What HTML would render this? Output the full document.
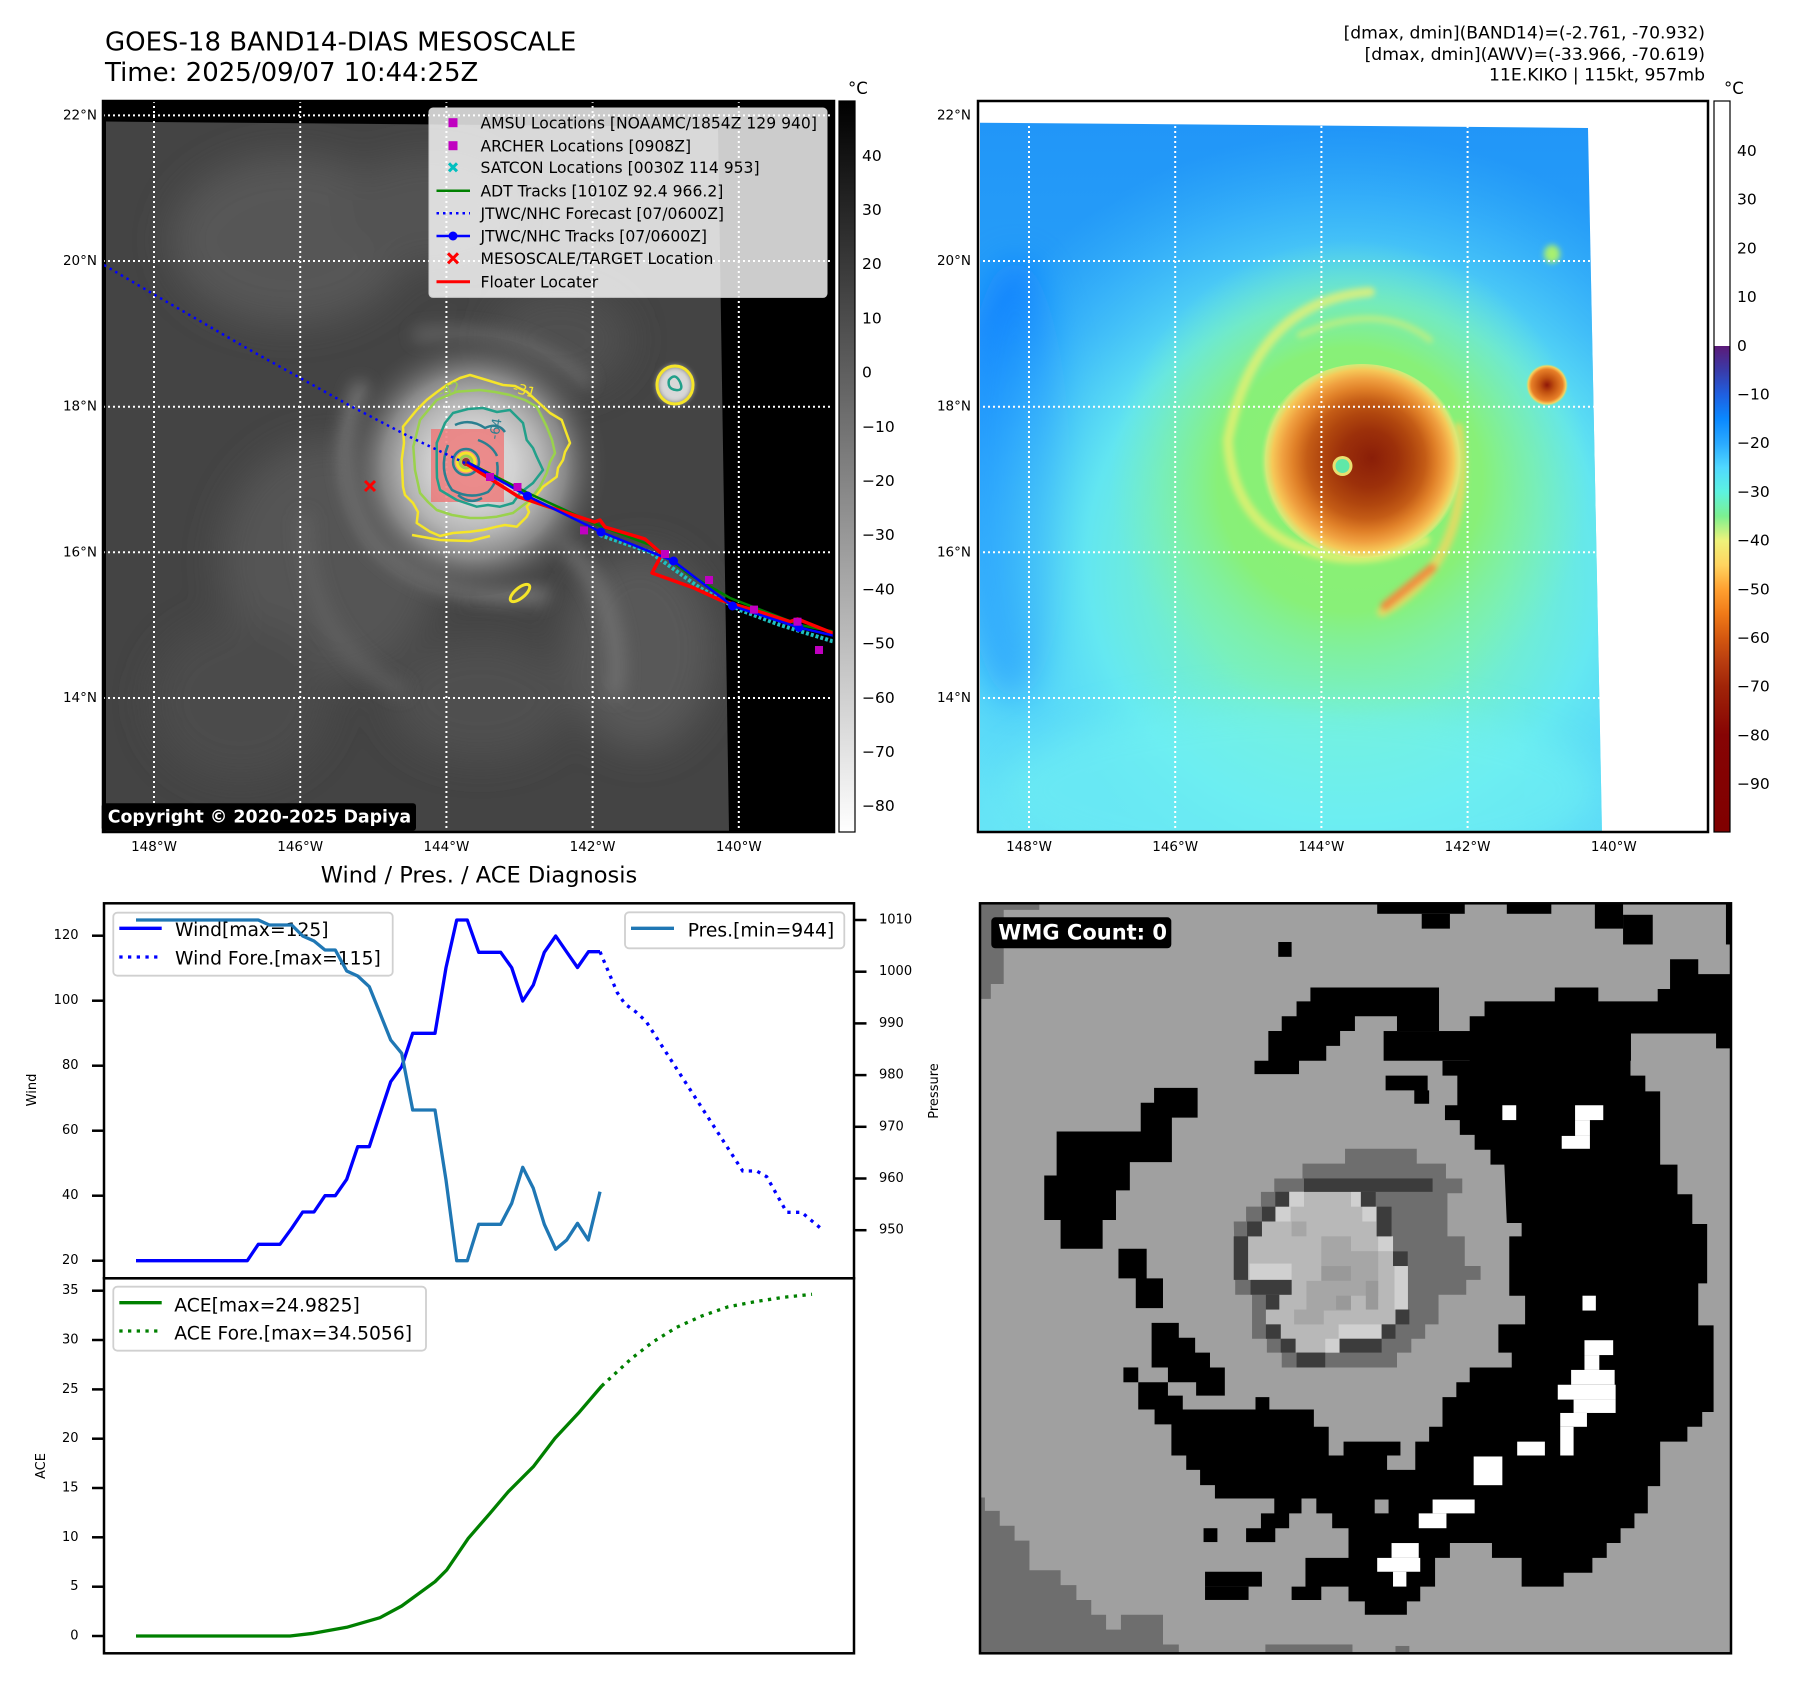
<!DOCTYPE html>
<html><head><meta charset="utf-8"><style>
html,body{margin:0;padding:0;background:#fff;}
svg{display:block;font-family:"DejaVu Sans","Liberation Sans",sans-serif;}
</style></head><body>
<svg width="1797" height="1690" viewBox="0 0 1797 1690" xmlns="http://www.w3.org/2000/svg">
<defs>
 <clipPath id="cL"><rect x="103" y="101" width="731" height="731"/></clipPath>
 <clipPath id="cR"><rect x="978" y="101" width="730" height="731"/></clipPath>
 <clipPath id="cSL"><polygon points="106,121.5 330,123.5 718,127 729,832 106,832"/></clipPath>
 <clipPath id="cSR"><polygon points="980,122.7 1200,124.5 1588,128 1602,832 980,832"/></clipPath>
 <clipPath id="cW"><rect x="980" y="903" width="751" height="750"/></clipPath>
 <filter id="b3" x="-50%" y="-50%" width="200%" height="200%"><feGaussianBlur stdDeviation="3"/></filter>
 <filter id="b8" x="-50%" y="-50%" width="200%" height="200%"><feGaussianBlur stdDeviation="8"/></filter>
 <filter id="b18" x="-50%" y="-50%" width="200%" height="200%"><feGaussianBlur stdDeviation="18"/></filter>
 <linearGradient id="gCbL" x1="0" y1="0" x2="0" y2="1"><stop offset="0" stop-color="#000"/><stop offset="1" stop-color="#fff"/></linearGradient>
 <linearGradient id="gCbR" x1="0" y1="0" x2="0" y2="1">
  <stop offset="0" stop-color="#fff"/><stop offset="0.3349" stop-color="#fff"/>
  <stop offset="0.335" stop-color="#5c1a78"/><stop offset="0.368" stop-color="#3a3aa8"/>
  <stop offset="0.4015" stop-color="#1f5fe0"/><stop offset="0.4348" stop-color="#0a88ff"/>
  <stop offset="0.4681" stop-color="#2aaaff"/><stop offset="0.5014" stop-color="#50d8ff"/>
  <stop offset="0.5348" stop-color="#5cf2e0"/><stop offset="0.568" stop-color="#7cf090"/>
  <stop offset="0.6014" stop-color="#eef27a"/><stop offset="0.6346" stop-color="#ffd460"/>
  <stop offset="0.668" stop-color="#ffa030"/><stop offset="0.7013" stop-color="#f07a18"/>
  <stop offset="0.7346" stop-color="#d45810"/><stop offset="0.7679" stop-color="#b83c10"/>
  <stop offset="0.8012" stop-color="#a02408"/><stop offset="0.8679" stop-color="#860404"/>
  <stop offset="1" stop-color="#800000"/>
 </linearGradient>
 <linearGradient id="gVertR" gradientUnits="userSpaceOnUse" x1="0" y1="122" x2="0" y2="832">
  <stop offset="0" stop-color="#2196f8"/><stop offset="0.3" stop-color="#28a0f8"/>
  <stop offset="0.55" stop-color="#44c4f8"/><stop offset="0.8" stop-color="#5cdcf8"/>
  <stop offset="1" stop-color="#66e4f6"/>
 </linearGradient>
 <radialGradient id="gStormL" gradientUnits="userSpaceOnUse" cx="474" cy="466" r="135">
  <stop offset="0" stop-color="#e0e0e0"/><stop offset="0.3" stop-color="#d2d2d2"/>
  <stop offset="0.5" stop-color="#b4b4b4"/><stop offset="0.68" stop-color="#888"/>
  <stop offset="0.85" stop-color="#5e5e5e" stop-opacity="0.6"/><stop offset="1" stop-color="#484848" stop-opacity="0"/>
 </radialGradient>
 <radialGradient id="gBaseR" gradientUnits="userSpaceOnUse" cx="1345" cy="560" r="430">
  <stop offset="0" stop-color="#80f0a0"/><stop offset="0.35" stop-color="#78f0c0"/>
  <stop offset="0.6" stop-color="#66eaf0" stop-opacity="0.9"/><stop offset="0.82" stop-color="#50d0fa" stop-opacity="0.45"/>
  <stop offset="1" stop-color="#40c0fa" stop-opacity="0"/>
 </radialGradient>
 <radialGradient id="gGreenR" gradientUnits="userSpaceOnUse" cx="1350" cy="480" r="240">
  <stop offset="0" stop-color="#8cf070"/><stop offset="0.55" stop-color="#88f078"/>
  <stop offset="0.78" stop-color="#80f0a0" stop-opacity="0.55"/><stop offset="1" stop-color="#78f0c0" stop-opacity="0"/>
 </radialGradient>
 <radialGradient id="gCoreR" gradientUnits="userSpaceOnUse" cx="1362" cy="461" r="102" fx="1372" fy="458">
  <stop offset="0" stop-color="#8a1e08"/><stop offset="0.28" stop-color="#9c300a"/>
  <stop offset="0.45" stop-color="#b0460e"/><stop offset="0.58" stop-color="#c45c16"/>
  <stop offset="0.7" stop-color="#e08028"/><stop offset="0.8" stop-color="#f0a040"/>
  <stop offset="0.89" stop-color="#f6c858"/><stop offset="0.95" stop-color="#e6e878" stop-opacity="0.8"/>
  <stop offset="1" stop-color="#a0f080" stop-opacity="0"/>
 </radialGradient>
 <radialGradient id="gCell" gradientUnits="userSpaceOnUse" cx="1547" cy="385" r="21">
  <stop offset="0" stop-color="#901808"/><stop offset="0.35" stop-color="#c05010"/>
  <stop offset="0.75" stop-color="#e88028"/><stop offset="0.9" stop-color="#f8d060"/>
  <stop offset="1" stop-color="#a0f080" stop-opacity="0"/>
 </radialGradient>
</defs>

<!-- HEADER -->
<text x="105" y="50.7" font-size="26">GOES-18 BAND14-DIAS MESOSCALE</text>
<text x="105" y="81" font-size="26">Time: 2025/09/07 10:44:25Z</text>
<g font-size="17.2" text-anchor="end">
<text x="1705" y="38.5">[dmax, dmin](BAND14)=(-2.761, -70.932)</text>
<text x="1705" y="60">[dmax, dmin](AWV)=(-33.966, -70.619)</text>
<text x="1705" y="80.7">11E.KIKO | 115kt, 957mb</text>
</g>

<!-- ================= LEFT MAP ================= -->
<g clip-path="url(#cL)">
 <rect x="103" y="101" width="731" height="731" fill="#000"/>
 <polygon points="106,121.5 330,123.5 718,127 729,832 106,832" fill="#444"/>
 <g clip-path="url(#cSL)">
  <g filter="url(#b18)">
   <ellipse cx="290" cy="240" rx="120" ry="85" fill="#575757"/>
   <ellipse cx="430" cy="210" rx="90" ry="55" fill="#525252"/>
   <ellipse cx="330" cy="560" rx="110" ry="120" fill="#555"/>
   <ellipse cx="640" cy="650" rx="75" ry="100" fill="#595959"/>
   <ellipse cx="560" cy="340" rx="70" ry="50" fill="#505050"/>
   <ellipse cx="480" cy="700" rx="90" ry="60" fill="#505050"/>
   <ellipse cx="240" cy="700" rx="90" ry="80" fill="#4c4c4c"/>
  </g>
  <g filter="url(#b8)" fill="none" stroke-linecap="round">
   <path d="M360,390 Q330,470 375,540 Q430,600 540,595" stroke="#858585" stroke-width="18" opacity="0.7"/>
   <path d="M560,540 Q625,600 615,690" stroke="#777" stroke-width="18" opacity="0.7"/>
   <path d="M420,335 Q520,325 585,380" stroke="#747474" stroke-width="15" opacity="0.6"/>
   <path d="M305,520 Q305,640 400,690" stroke="#656565" stroke-width="16" opacity="0.6"/>
  </g>
  <ellipse cx="474" cy="466" rx="135" ry="130" fill="url(#gStormL)"/>
  <ellipse cx="675" cy="385" rx="18" ry="19" fill="#d8d8d8" filter="url(#b3)"/>
 </g>
 <g stroke="#fff" stroke-width="2" stroke-dasharray="2 3">
  <line x1="154" y1="101" x2="154" y2="832"/><line x1="300.2" y1="101" x2="300.2" y2="832"/>
  <line x1="446.4" y1="101" x2="446.4" y2="832"/><line x1="592.6" y1="101" x2="592.6" y2="832"/>
  <line x1="738.8" y1="101" x2="738.8" y2="832"/>
  <line x1="103" y1="115.4" x2="834" y2="115.4"/><line x1="103" y1="261" x2="834" y2="261"/>
  <line x1="103" y1="406.7" x2="834" y2="406.7"/><line x1="103" y1="552.3" x2="834" y2="552.3"/>
  <line x1="103" y1="698" x2="834" y2="698"/>
 </g>
 <rect x="431" y="429" width="73" height="73" fill="#f07070" opacity="0.75"/>
 <g fill="none" stroke-linejoin="round" stroke-width="2.5">
  <polygon stroke="#f5e529" points="470,375 486.7,380 503,385 515,386 526.7,391.7 538,402 550,413 561.7,420 566,432 570,443 565,452 563,460 558,468 556.7,476.7 543,486.7 535,497 526.7,506.7 529,512 526.7,516.7 516.7,526.7 505,525 496.7,526.7 483,530 470,531.7 453,533 440,536 430,531.7 416.7,523 418,512 413,503 405,495 403,486.7 401.7,460 404,443 403,426.7 416.7,410 426.7,400 437,392 446.7,385 460,378"/>
  <polygon stroke="#9ad24c" points="480,390 495,392 510,395 525,400 536.7,406.7 546.7,426.7 552,440 555,453 550,462 546.7,473 540,486.7 530,500 513,513 496.7,516.7 483,518 470,518 452,515 436.7,510 428,502 420,493 415,470 413.3,446.7 420,420 436.7,400 456.7,391.7"/>
  <polygon stroke="#22a08a" points="453,413 468,409 483,408 497,412 510,410 523,423 526.7,440 533,448 536.7,456.7 543,470 533,483 520,493 513,503 500,506.7 488,505 476.7,506.7 456.7,500 440,490 437,478 436.7,466.7 436.7,443 445,423"/>
  <path stroke="#2a7f90" d="M455,425 Q470,418 485,428 Q498,422 505,432 M448,445 Q438,470 452,490 Q470,500 488,492 Q500,480 497,462 M478,440 Q492,445 497,456 M458,495 Q470,505 482,498"/>
  <circle cx="466" cy="462" r="13" stroke="#2a7f90"/>
  <circle cx="466" cy="462" r="9" stroke="#f5e529" stroke-width="3"/>
  <circle cx="466" cy="462" r="6" stroke="#9ad24c"/>
  <ellipse cx="675" cy="385" rx="18" ry="19" stroke="#f5e529" stroke-width="3"/>
  <path stroke="#22a08a" d="M669,380 q6,-8 11,2 q4,9 -4,8 q-9,-1 -7,-10 z"/>
  <ellipse cx="520" cy="593" rx="12" ry="5" transform="rotate(-40 520 593)" stroke="#f5e529" stroke-width="3"/>
  <path stroke="#f5e529" d="M412,535 L440,540 L470,541 L490,536"/>
 </g>
 <circle cx="466" cy="462" r="4" fill="#8b3a2a"/>
 <text x="440" y="398" font-size="14" fill="#9ad24c" transform="rotate(-20 440 398)">-42</text>
 <text x="512" y="392" font-size="14" fill="#f5e529" transform="rotate(15 512 392)">-31</text>
 <text x="498" y="440" font-size="13" fill="#2a7f90" transform="rotate(-80 498 440)">-64</text>
 <polyline points="104,265 155,295 250,350 350,405.7 410,437 467,464" fill="none" stroke="#0000ff" stroke-width="2.5" stroke-dasharray="2.5 4"/>
 <polyline points="600,535 650,552 700,588 740,610 780,625 835,642" fill="none" stroke="#1ec0c0" stroke-width="4" stroke-dasharray="3 2"/>
 <polyline points="467,462 530,494 600,526 650,545 690,575 730,598 800,625 835,632" fill="none" stroke="#008000" stroke-width="2.5"/>
 <polyline points="466.7,464 519,497 594.5,522 600,520 605,527 645,539 662,554 652,573 694,588 720,600 760,612 790,621.7 797.5,619 835,634" fill="none" stroke="#ff0000" stroke-width="3.5" stroke-linejoin="round"/>
 <polyline points="467,462 527.5,496 601,532 673.5,561 732.5,606 799,627.5 835,636" fill="none" stroke="#0000ff" stroke-width="2.5"/>
 <g fill="#0000ff"><circle cx="527.5" cy="496" r="4.5"/><circle cx="601" cy="532" r="4.5"/><circle cx="673.5" cy="561" r="4.5"/><circle cx="732.5" cy="606" r="4.5"/><circle cx="799" cy="627.5" r="4.5"/></g>
 <g fill="#c000c0"><rect x="486" y="473" width="8" height="8"/><rect x="513.5" y="483" width="8" height="8"/><rect x="580" y="526.4" width="8" height="8"/><rect x="661" y="550" width="8" height="8"/><rect x="705" y="576" width="8" height="8"/><rect x="750" y="605.6" width="8" height="8"/><rect x="793.5" y="617.7" width="8" height="8"/><rect x="815" y="646" width="8" height="8"/></g>
 <path d="M365,481 L375,491 M375,481 L365,491" stroke="#ff0000" stroke-width="3"/>
 <rect x="429" y="108" width="398" height="189.4" rx="4" fill="#fff" fill-opacity="0.8" stroke="#ccc" stroke-width="1"/>
 <rect x="448.5" y="118.2" width="9" height="9" fill="#c000c0"/>
 <rect x="448.5" y="141.2" width="9" height="9" fill="#c000c0"/>
 <path d="M449,163.3 L457,171.3 M457,163.3 L449,171.3" stroke="#00bfbf" stroke-width="3"/>
 <line x1="436.5" y1="190.7" x2="470" y2="190.7" stroke="#008000" stroke-width="2.5"/>
 <line x1="436.5" y1="213.3" x2="470" y2="213.3" stroke="#0000ff" stroke-width="2.5" stroke-dasharray="2.5 4"/>
 <line x1="436.5" y1="236" x2="470" y2="236" stroke="#0000ff" stroke-width="2.5"/><circle cx="453" cy="236" r="4.5" fill="#0000ff"/>
 <path d="M448,253.3 L458,263.3 M458,253.3 L448,263.3" stroke="#ff0000" stroke-width="3"/>
 <line x1="436.5" y1="281.7" x2="470" y2="281.7" stroke="#ff0000" stroke-width="3"/>
 <g font-size="15.6">
  <text x="480.5" y="128.4">AMSU Locations [NOAAMC/1854Z 129 940]</text>
  <text x="480.5" y="151.4">ARCHER Locations [0908Z]</text>
  <text x="480.5" y="173">SATCON Locations [0030Z 114 953]</text>
  <text x="480.5" y="196.4">ADT Tracks [1010Z 92.4 966.2]</text>
  <text x="480.5" y="219">JTWC/NHC Forecast [07/0600Z]</text>
  <text x="480.5" y="241.7">JTWC/NHC Tracks [07/0600Z]</text>
  <text x="480.5" y="264">MESOSCALE/TARGET Location</text>
  <text x="480.5" y="287.4">Floater Locater</text>
 </g>
</g>
<rect x="103" y="101" width="731" height="731" fill="none" stroke="#000" stroke-width="2.5"/>
<rect x="101.7" y="803.3" width="314.3" height="27.4" rx="3" fill="#000"/>
<text x="107.7" y="822.3" font-size="17.4" font-weight="bold" fill="#fff">Copyright © 2020-2025 Dapiya</text>
<g font-size="13.5" text-anchor="end" dominant-baseline="central">
 <text x="97" y="115.4">22°N</text><text x="97" y="261">20°N</text><text x="97" y="406.7">18°N</text><text x="97" y="552.3">16°N</text><text x="97" y="698">14°N</text>
 <text x="971" y="115.4">22°N</text><text x="971" y="261">20°N</text><text x="971" y="406.7">18°N</text><text x="971" y="552.3">16°N</text><text x="971" y="698">14°N</text>
</g>
<g font-size="13.5" text-anchor="middle">
 <text x="154" y="851">148°W</text><text x="300.2" y="851">146°W</text><text x="446.4" y="851">144°W</text><text x="592.6" y="851">142°W</text><text x="738.8" y="851">140°W</text>
 <text x="1029" y="851">148°W</text><text x="1175.2" y="851">146°W</text><text x="1321.4" y="851">144°W</text><text x="1467.6" y="851">142°W</text><text x="1613.8" y="851">140°W</text>
</g>
<rect x="839" y="101" width="16" height="731" fill="url(#gCbL)" stroke="#000" stroke-width="1.2"/>
<text x="848" y="94" font-size="16.5">°C</text>
<g font-size="15.5" dominant-baseline="central">
 <text x="862" y="155.8">40</text><text x="862" y="210">30</text><text x="862" y="264.2">20</text><text x="862" y="318.4">10</text><text x="862" y="372.6">0</text>
 <text x="862" y="426.8">−10</text><text x="862" y="481">−20</text><text x="862" y="535.2">−30</text><text x="862" y="589.4">−40</text><text x="862" y="643.6">−50</text>
 <text x="862" y="697.8">−60</text><text x="862" y="752">−70</text><text x="862" y="806.2">−80</text>
</g>

<!-- ================= RIGHT MAP ================= -->
<g clip-path="url(#cR)">
 <rect x="978" y="101" width="730" height="731" fill="#fff"/>
 <polygon points="980,122.7 1200,124.5 1588,128 1602,832 980,832" fill="url(#gVertR)"/>
 <g clip-path="url(#cSR)">
  <ellipse cx="1015" cy="480" rx="55" ry="220" fill="#0c80ff" filter="url(#b18)" opacity="0.8"/>
  <rect x="978" y="101" width="730" height="731" fill="url(#gBaseR)"/>
  <ellipse cx="1300" cy="790" rx="300" ry="90" fill="#72f2f2" opacity="0.6" filter="url(#b18)"/>
  <ellipse cx="1350" cy="480" rx="240" ry="240" fill="url(#gGreenR)"/>
  <g fill="none" stroke-linecap="round" filter="url(#b3)">
   <path d="M1370,292 Q1255,300 1228,440 Q1232,520 1300,548 Q1365,572 1425,540" stroke="#eef070" stroke-width="10" opacity="0.75"/>
   <path d="M1458,428 Q1472,520 1425,578 Q1405,600 1382,612" stroke="#f0d860" stroke-width="10" opacity="0.8"/>
   <path d="M1432,568 L1385,606" stroke="#f09040" stroke-width="9"/>
   <path d="M1300,335 Q1380,300 1430,340" stroke="#e0f070" stroke-width="6" opacity="0.6"/>
  </g>
  <ellipse cx="1362" cy="461" rx="102" ry="97" fill="url(#gCoreR)"/>
  <circle cx="1342.5" cy="466" r="10" fill="#e8e070"/>
  <circle cx="1342.5" cy="466" r="7" fill="#60e8a8"/>
  <circle cx="1547" cy="385.5" r="21" fill="url(#gCell)"/>
  <ellipse cx="1552" cy="254" rx="8" ry="9" fill="#a8f070" filter="url(#b3)"/>
 </g>
 <g stroke="#fff" stroke-width="2" stroke-dasharray="2 3">
  <line x1="1029" y1="101" x2="1029" y2="832"/><line x1="1175.2" y1="101" x2="1175.2" y2="832"/>
  <line x1="1321.4" y1="101" x2="1321.4" y2="832"/><line x1="1467.6" y1="101" x2="1467.6" y2="832"/>
  <line x1="978" y1="261" x2="1708" y2="261"/><line x1="978" y1="406.7" x2="1708" y2="406.7"/>
  <line x1="978" y1="552.3" x2="1708" y2="552.3"/><line x1="978" y1="698" x2="1708" y2="698"/>
 </g>
</g>
<rect x="978" y="101" width="730" height="731" fill="none" stroke="#000" stroke-width="2.5"/>
<rect x="1714" y="101" width="16" height="731" fill="url(#gCbR)" stroke="#000" stroke-width="1.2"/>
<text x="1724" y="94" font-size="16.5">°C</text>
<g font-size="15.5" dominant-baseline="central">
 <text x="1737" y="151">40</text><text x="1737" y="199.7">30</text><text x="1737" y="248.4">20</text><text x="1737" y="297.1">10</text><text x="1737" y="345.8">0</text>
 <text x="1737" y="394.5">−10</text><text x="1737" y="443.2">−20</text><text x="1737" y="491.9">−30</text><text x="1737" y="540.6">−40</text><text x="1737" y="589.3">−50</text>
 <text x="1737" y="638">−60</text><text x="1737" y="686.7">−70</text><text x="1737" y="735.4">−80</text><text x="1737" y="784.1">−90</text>
</g>

<!-- ================= WIND / PRES / ACE ================= -->
<text x="479" y="882.5" font-size="22.5" text-anchor="middle">Wind / Pres. / ACE Diagnosis</text>
<polyline fill="none" stroke="#0000ff" stroke-width="3.3" stroke-linejoin="round" points="136,1260.7 247.3,1260.7 258.3,1244.3 280,1244.3 291.7,1228.3 302.7,1212 314,1212 325,1195.7 335.3,1195.7 346.7,1179.3 357.7,1146.7 369.3,1146.7 380,1114 390.7,1081.7 401.7,1066.7 412.7,1033.3 435,1033.3 446,967.7 456.7,920 467.3,920 478.7,952.3 500.7,952.3 511.7,967.7 522.7,1001 533.3,985 544.3,952.3 555.7,936 566.7,952 577.5,967.5 588.5,951.7 600,951.7"/>
<polyline fill="none" stroke="#0000ff" stroke-width="3.3" stroke-dasharray="3.3 5.4" points="600,951.7 617.3,992.7 625,1004 636,1012 646,1021.3 742.7,1171 756.7,1171 766.7,1176.7 786.7,1212.3 801.7,1212.3 820,1227.7"/>
<rect x="113.3" y="912.7" width="279.4" height="63" rx="4" fill="#fff" fill-opacity="0.8" stroke="#d0d0d0" stroke-width="1.8"/>
<line x1="119.3" y1="928.3" x2="161.7" y2="928.3" stroke="#0000ff" stroke-width="3.3"/>
<line x1="119.3" y1="957" x2="161.7" y2="957" stroke="#0000ff" stroke-width="3.3" stroke-dasharray="3.3 5.4"/>
<text x="175" y="936" font-size="18.7">Wind[max=125]</text>
<text x="175" y="964.3" font-size="18.7">Wind Fore.[max=115]</text>
<polyline fill="none" stroke="#1f77b4" stroke-width="3.3" stroke-linejoin="round" points="136,920 258.3,920 269.3,925 291.7,925 302.7,936 314,941 325,950 335.3,950 346.7,971 357.7,976 369.3,986.7 380,1013.3 390.7,1040 401.7,1053.3 412.7,1110 435,1110 446,1180 456.7,1260.7 467.3,1260.7 478.7,1224.3 500.7,1224.3 511.7,1203.3 522.7,1167.3 533.3,1188.3 544.3,1224.3 555.7,1249.3 566.7,1240 577.5,1223.3 588.3,1240 600,1191.7"/>
<rect x="625" y="912.3" width="219.3" height="36" rx="4" fill="#fff" fill-opacity="0.8" stroke="#d0d0d0" stroke-width="1.8"/>
<line x1="631" y1="928.3" x2="674" y2="928.3" stroke="#1f77b4" stroke-width="3.3"/>
<text x="687.7" y="936.5" font-size="18.7">Pres.[min=944]</text>
<polyline fill="none" stroke="#008000" stroke-width="3.3" stroke-linejoin="round" points="136,1636 290,1636 313.3,1633.3 346.7,1627.3 380,1617.7 401.7,1606 435,1581.7 446.7,1570 468.3,1538.3 490,1513.3 508.3,1491.7 533.3,1466.7 555,1438.3 578.3,1413.3 601.7,1386"/>
<polyline fill="none" stroke="#008000" stroke-width="3.3" stroke-dasharray="3.3 5.4" points="601.7,1386 631.7,1358.3 653.3,1341.7 676.7,1327.3 701.7,1316 728.3,1306.7 755,1301.7 783.3,1297.3 812,1294.3"/>
<rect x="113.3" y="1286.7" width="312.7" height="64" rx="4" fill="#fff" fill-opacity="0.8" stroke="#d0d0d0" stroke-width="1.8"/>
<line x1="119.3" y1="1302.7" x2="161.7" y2="1302.7" stroke="#008000" stroke-width="3.3"/>
<line x1="119.3" y1="1331" x2="161.7" y2="1331" stroke="#008000" stroke-width="3.3" stroke-dasharray="3.3 5.4"/>
<text x="174.3" y="1311.7" font-size="18.7">ACE[max=24.9825]</text>
<text x="174.3" y="1339.3" font-size="18.7">ACE Fore.[max=34.5056]</text>
<rect x="104" y="903.3" width="750" height="375" fill="none" stroke="#000" stroke-width="2.5"/>
<rect x="104" y="1278.3" width="750" height="375" fill="none" stroke="#000" stroke-width="2.5"/>
<g stroke="#000" stroke-width="2.5">
 <line x1="92" y1="1260.7" x2="104" y2="1260.7"/><line x1="92" y1="1195.7" x2="104" y2="1195.7"/><line x1="92" y1="1130.7" x2="104" y2="1130.7"/>
 <line x1="92" y1="1065.7" x2="104" y2="1065.7"/><line x1="92" y1="1000.7" x2="104" y2="1000.7"/><line x1="92" y1="935.7" x2="104" y2="935.7"/>
 <line x1="854" y1="1230.2" x2="866.5" y2="1230.2"/><line x1="854" y1="1178.5" x2="866.5" y2="1178.5"/><line x1="854" y1="1126.8" x2="866.5" y2="1126.8"/>
 <line x1="854" y1="1075.1" x2="866.5" y2="1075.1"/><line x1="854" y1="1023.4" x2="866.5" y2="1023.4"/><line x1="854" y1="971.7" x2="866.5" y2="971.7"/><line x1="854" y1="920" x2="866.5" y2="920"/>
 <line x1="92" y1="1636" x2="104" y2="1636"/><line x1="92" y1="1586.7" x2="104" y2="1586.7"/><line x1="92" y1="1537.3" x2="104" y2="1537.3"/>
 <line x1="92" y1="1488" x2="104" y2="1488"/><line x1="92" y1="1438.7" x2="104" y2="1438.7"/><line x1="92" y1="1389.4" x2="104" y2="1389.4"/>
 <line x1="92" y1="1340" x2="104" y2="1340"/><line x1="92" y1="1290.7" x2="104" y2="1290.7"/>
</g>
<g font-size="13" text-anchor="end" dominant-baseline="central">
 <text x="78.5" y="1260.7">20</text><text x="78.5" y="1195.7">40</text><text x="78.5" y="1130.7">60</text>
 <text x="78.5" y="1065.7">80</text><text x="78.5" y="1000.7">100</text><text x="78.5" y="935.7">120</text>
 <text x="78.5" y="1636">0</text><text x="78.5" y="1586.7">5</text><text x="78.5" y="1537.3">10</text><text x="78.5" y="1488">15</text>
 <text x="78.5" y="1438.7">20</text><text x="78.5" y="1389.4">25</text><text x="78.5" y="1340">30</text><text x="78.5" y="1290.7">35</text>
</g>
<g font-size="13" dominant-baseline="central">
 <text x="879" y="1230.2">950</text><text x="879" y="1178.5">960</text><text x="879" y="1126.8">970</text><text x="879" y="1075.1">980</text>
 <text x="879" y="1023.4">990</text><text x="879" y="971.7">1000</text><text x="879" y="920">1010</text>
</g>
<text x="0" y="0" font-size="13" text-anchor="middle" transform="translate(36 1090) rotate(-90)">Wind</text>
<text x="0" y="0" font-size="13" text-anchor="middle" transform="translate(45 1466) rotate(-90)">ACE</text>
<text x="0" y="0" font-size="13" text-anchor="middle" transform="translate(938 1091) rotate(-90)">Pressure</text>

<!-- ================= WMG ================= -->
<g clip-path="url(#cW)">
<rect x="980" y="903" width="751" height="750" fill="#a0a0a0"/>
<g transform="translate(975 895) scale(0.4947)">
 <g fill="#6e6e6e">
  <polygon points="10,17 130,17 130,30 58,30 58,180 32,180 32,210 10,210"/>
  <polygon points="10,1218 20,1218 20,1245 50,1245 50,1275 80,1275 80,1305 110,1305 110,1365 173,1365 173,1395 205,1395 205,1425 235,1425 235,1455 265,1455 265,1485 295,1485 295,1455 380,1455 380,1515 412,1515 412,1540 10,1540"/>
  <rect x="587" y="1515" width="176" height="25"/><rect x="850" y="1518" width="28" height="22"/>
 </g>
 <g fill="#000">
  <rect x="813" y="10" width="177" height="28"/><rect x="903" y="38" width="57" height="30"/>
  <rect x="1075" y="10" width="90" height="28"/><rect x="1253" y="10" width="57" height="58"/>
  <rect x="1310" y="40" width="60" height="60"/><rect x="1518" y="10" width="15" height="90"/>
  <rect x="613" y="95" width="27" height="30"/>
  <polygon points="678,187 938,187 938,275 853,275 853,245 768,245 768,275 738,275 738,305 710,305 710,335 655,335 655,362 565,362 565,335 593,335 593,275 620,275 620,245 650,245 650,215 678,215"/>
  <rect x="826" y="275" width="500" height="60"/>
  <polygon points="830,365 915,365 915,395 918,395 918,422 888,422 888,395 830,395"/>
  <polygon points="1000,245 1030,245 1030,215 1172,215 1172,187 1260,187 1260,215 1380,215 1380,190 1405,190 1405,130 1462,130 1462,160 1533,160 1533,310 1498,310 1498,280 1325,280 1325,365 1355,365 1355,397 1385,397 1385,545 1420,545 1420,605 1450,605 1450,665 1480,665 1480,785 1462,785 1462,870 1493,870 1493,1045 1470,1045 1470,1075 1440,1075 1440,1105 1385,1105 1385,1195 1360,1195 1360,1250 1333,1250 1333,1280 1305,1280 1305,1310 1277,1310 1277,1340 1248,1340 1248,1370 1190,1370 1190,1398 1105,1398 1105,1340 1045,1340 1045,1310 960,1310 960,1340 930,1340 930,1398 900,1398 900,1428 873,1428 873,1455 788,1455 788,1428 755,1428 755,1398 700,1398 700,1425 640,1425 640,1398 668,1398 668,1340 755,1340 755,1280 722,1280 722,1250 690,1250 690,1220 660,1220 660,1250 635,1250 635,1280 607,1280 607,1308 548,1308 548,1280 578,1280 578,1250 605,1250 605,1220 485,1220 485,1193 455,1193 455,1162 427,1162 427,1133 397,1133 397,1070 363,1070 363,1040 330,1040 330,985 390,985 390,1012 420,1012 420,1040 567,1040 567,1015 595,1015 595,1040 685,1040 685,1075 715,1075 715,1133 745,1133 745,1105 860,1105 860,1133 833,1133 833,1162 890,1162 890,1105 918,1105 918,1075 945,1075 945,1015 973,1015 973,985 1000,985 1000,955 1085,955 1085,925 1058,925 1058,868 1112,868 1112,810 1080,810 1080,690 1105,690 1105,663 1075,663 1070,545 1042,545 1042,515 1010,515 1010,485 980,485 980,455 950,455 950,425 975,425 975,365 945,365 945,335 1000,335"/>
  <polygon points="362,390 450,390 450,450 398,450 398,540 313,540 313,597 285,597 285,657 258,657 258,715 173,715 173,657 140,657 140,567 165,567 165,478 335,478 335,420 362,420"/>
  <polygon points="290,715 347,715 347,775 380,775 380,835 325,835 325,775 290,775"/>
  <polygon points="357,865 412,865 412,895 445,895 445,925 475,925 475,955 505,955 505,1012 447,1012 447,985 390,985 390,955 357,955"/>
  <rect x="300" y="955" width="30" height="30"/>
  <rect x="462" y="1280" width="28" height="28"/>
  <rect x="465" y="1368" width="115" height="30"/><rect x="465" y="1398" width="88" height="27"/>
 </g>
 <rect x="808" y="1222" width="28" height="28" fill="#a0a0a0"/>
 <g fill="#fff">
  <rect x="1066" y="425" width="28" height="30"/>
  <rect x="1213" y="425" width="57" height="30"/><rect x="1213" y="455" width="30" height="32"/><rect x="1186" y="487" width="57" height="26"/>
  <rect x="1228" y="810" width="27" height="30"/>
  <rect x="1232" y="900" width="58" height="30"/><rect x="1232" y="930" width="30" height="30"/><rect x="1205" y="960" width="88" height="30"/>
  <rect x="1178" y="990" width="117" height="30"/><rect x="1210" y="1020" width="85" height="27"/><rect x="1183" y="1047" width="54" height="28"/><rect x="1183" y="1075" width="27" height="58"/>
  <rect x="1096" y="1105" width="56" height="28"/>
  <rect x="1008" y="1135" width="58" height="58"/>
  <rect x="925" y="1222" width="85" height="28"/><rect x="897" y="1250" width="56" height="30"/>
  <rect x="842" y="1310" width="55" height="30"/><rect x="813" y="1340" width="87" height="28"/><rect x="845" y="1368" width="27" height="30"/>
 </g>
 <polygon fill="#6e6e6e" points="748,513 893,513 893,543 952,543 952,573 985,573 985,603 955,603 955,690 990,690 990,750 1022,750 1022,778 993,778 993,808 937,808 937,868 910,868 910,897 882,897 882,925 853,925 853,955 620,955 620,925 590,925 590,897 560,897 560,808 526,808 526,778 523,660 548,660 548,630 578,630 578,600 605,600 605,573 662,573 662,543 748,543"/>
 <polygon fill="#b8b8b8" points="635,600 780,600 780,630 812,630 812,690 845,690 845,720 875,720 875,838 850,838 850,868 822,868 822,897 737,897 737,925 648,925 648,897 618,897 618,868 588,868 588,838 615,838 615,808 640,808 640,778 552,778 552,690 580,690 580,660 607,660 607,630 635,630"/>
 <g fill="#a6a6a6"><rect x="640" y="660" width="30" height="30"/><rect x="700" y="690" width="60" height="60"/><rect x="760" y="720" width="55" height="90"/><rect x="670" y="780" width="90" height="60"/><rect x="645" y="838" width="60" height="30"/></g>
 <g fill="#999"><rect x="700" y="750" width="60" height="30"/><rect x="730" y="810" width="30" height="28"/><rect x="790" y="780" width="25" height="58"/></g>
 <g fill="#d0d0d0"><rect x="635" y="600" width="30" height="30"/><rect x="608" y="630" width="30" height="30"/><rect x="760" y="600" width="20" height="30"/><rect x="783" y="630" width="28" height="30"/><rect x="555" y="745" width="85" height="33"/><rect x="735" y="868" width="87" height="29"/><rect x="708" y="897" width="29" height="28"/><rect x="848" y="750" width="27" height="88"/><rect x="815" y="690" width="30" height="30"/></g>
 <g fill="#3c3c3c">
  <rect x="665" y="573" width="260" height="27"/><rect x="607" y="600" width="28" height="30"/><rect x="780" y="600" width="30" height="30"/>
  <rect x="580" y="630" width="27" height="30"/><rect x="812" y="630" width="30" height="60"/><rect x="550" y="660" width="30" height="30"/>
  <rect x="523" y="690" width="29" height="88"/><rect x="845" y="720" width="30" height="30"/><rect x="557" y="778" width="83" height="30"/>
  <rect x="588" y="808" width="27" height="30"/><rect x="850" y="838" width="28" height="30"/><rect x="588" y="868" width="30" height="29"/>
  <rect x="822" y="868" width="28" height="29"/><rect x="618" y="897" width="30" height="28"/><rect x="737" y="897" width="85" height="28"/><rect x="650" y="925" width="58" height="30"/>
 </g>
</g>
</g>
<rect x="980" y="903.3" width="751" height="750" fill="none" stroke="#000" stroke-width="2.5"/>
<rect x="991.3" y="917.3" width="180" height="31" rx="4" fill="#000"/>
<text x="998.3" y="939.5" font-size="21" font-weight="bold" fill="#fff">WMG Count: 0</text>
</svg>
</body></html>
